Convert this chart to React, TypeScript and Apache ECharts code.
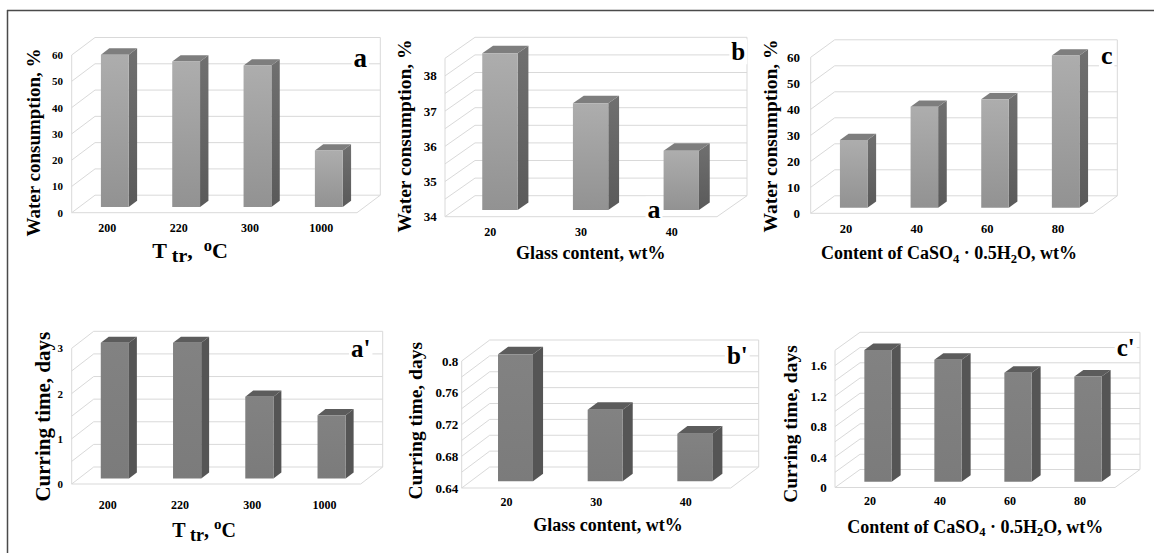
import React, { useEffect, useRef } from 'react';
import * as echarts from 'echarts';

const FONT = '"Liberation Serif", "Times New Roman", serif';

// ---- categories ----
const catsTemp = ['200', '220', '300', '1000'];
const catsGlass = ['20', '30', '40'];
const catsCaso = ['20', '40', '60', '80'];

// ---- series values ----
const waterByTemp = [58.0, 55.4, 53.9, 21.5];
const waterByGlass = [38.45, 37.03, 35.68];
const waterByCaso = [26.0, 38.8, 41.7, 58.5];
const cureByTemp = [3.0, 3.0, 1.81, 1.4];
const cureByGlass = [0.8, 0.73, 0.7];
const cureByCaso = [1.73, 1.6, 1.43, 1.38];

// ---- gridline values (back wall) ----
const gridWaterPct = [0, 10, 20, 30, 40, 50, 60];
const gridWaterGlass = [34, 34.5, 35, 35.5, 36, 36.5, 37, 37.5, 38, 38.5];
const gridCureTemp = [0, 0.5, 1, 1.5, 2, 2.5, 3];
const gridCureGlass = [0.64, 0.66, 0.68, 0.7, 0.72, 0.74, 0.76, 0.78, 0.8];
const gridCureCaso = [0, 0.2, 0.4, 0.6, 0.8, 1, 1.2, 1.4, 1.6, 1.8];

// ---- tick labels shown ----
const labelsWaterPct = [0, 10, 20, 30, 40, 50, 60];
const labelsWaterGlass = [34, 35, 36, 37, 38];
const labelsCureTemp = [0, 1, 2, 3];
const labelsCureGlass = [0.64, 0.68, 0.72, 0.76, 0.8];
const labelsCureCaso = [0, 0.4, 0.8, 1.2, 1.6];

const panels = [
  { cats: catsTemp, values: waterByTemp, grid: gridWaterPct, labels: labelsWaterPct, min: 0, max: 60, interval: 10,
    box: { left: 71.7, top: 55, right: 357, bottom: 212.7 }, dx: 23.3, dy: -17.5, light: true, yFont: 11, yMargin: 8.7, xFont: 12, xMargin: 15.6 },
  { cats: catsGlass, values: waterByGlass, grid: gridWaterGlass, labels: labelsWaterGlass, min: 34, max: 38.5, interval: 0.5,
    box: { left: 445, top: 58.3, right: 717, bottom: 216.7 }, dx: 30, dy: -21, light: true, yFont: 13, yMargin: 8.3, xFont: 12, xMargin: 15 },
  { cats: catsCaso, values: waterByCaso, grid: gridWaterPct, labels: labelsWaterPct, min: 0, max: 60, interval: 10,
    box: { left: 810.7, top: 57.3, right: 1093.3, bottom: 213.3 }, dx: 24, dy: -17.5, light: true, yFont: 13, yMargin: 10.7, xFont: 12.5, xMargin: 16 },
  { cats: catsTemp, values: cureByTemp, grid: gridCureTemp, labels: labelsCureTemp, min: 0, max: 3, interval: 0.5,
    box: { left: 71.7, top: 348.3, right: 360.7, bottom: 484 }, dx: 22, dy: -17, light: false, yFont: 11, yMargin: 8.7, xFont: 12, xMargin: 21 },
  { cats: catsGlass, values: cureByGlass, grid: gridCureGlass, labels: labelsCureGlass, min: 0.64, max: 0.8, interval: 0.02,
    box: { left: 461.7, top: 361, right: 730.7, bottom: 488 }, dx: 28, dy: -21, light: false, yFont: 13, yMargin: 3.5, xFont: 12, xMargin: 14 },
  { cats: catsCaso, values: cureByCaso, grid: gridCureCaso, labels: labelsCureCaso, min: 0, max: 1.8, interval: 0.2,
    box: { left: 835, top: 350.3, right: 1115, bottom: 487.5 }, dx: 25, dy: -18, light: false, yFont: 13, yMargin: 8.3, xFont: 12, xMargin: 13.5 },
];

const GRID_COLOR = '#d9d9d9';
const F_OFF = 0.32;
const DEPTH = 0.36;
const BAR_W = 0.39;

function fmt(v: number) {
  return String(Number(v.toFixed(2)));
}

function buildOption() {
  const series: any[] = [];
  panels.forEach((p, k) => {
    const { dx, dy } = p;
    series.push({
      type: 'custom',
      xAxisIndex: k,
      yAxisIndex: k,
      z: 1,
      silent: true,
      clip: false,
      data: p.grid.map((v) => [0, v]),
      encode: { x: 0, y: 1 },
      renderItem: (params: any, api: any) => {
        const v = api.value(1);
        const cs = params.coordSys;
        const x0 = cs.x;
        const x1 = cs.x + cs.width;
        const y = api.coord([0, v])[1];
        const st = { stroke: GRID_COLOR, lineWidth: 1, fill: 'none' };
        const children: any[] = [
          { type: 'line', shape: { x1: x0 + dx, y1: y + dy, x2: x1 + dx, y2: y + dy }, style: st },
          { type: 'line', shape: { x1: x0, y1: y, x2: x0 + dx, y2: y + dy }, style: st },
        ];
        if (params.dataIndex === 0) {
          const yb = cs.y + cs.height;
          const yt = cs.y;
          children.push(
            { type: 'line', shape: { x1: x0, y1: yb, x2: x0, y2: yt }, style: st },
            { type: 'line', shape: { x1: x0, y1: yb, x2: x1, y2: yb }, style: st },
            { type: 'line', shape: { x1: x1, y1: yb, x2: x1 + dx, y2: yb + dy }, style: st },
            { type: 'line', shape: { x1: x1 + dx, y1: yb + dy, x2: x1 + dx, y2: yt + dy }, style: st }
          );
        }
        return { type: 'group', children };
      },
    });

    const front = p.light
      ? new echarts.graphic.LinearGradient(0, 0, 0, 1, [
          { offset: 0, color: '#adadad' },
          { offset: 1, color: '#929292' },
        ])
      : new echarts.graphic.LinearGradient(0, 0, 0, 1, [
          { offset: 0, color: '#828282' },
          { offset: 1, color: '#7b7b7b' },
        ]);
    const side = p.light
      ? new echarts.graphic.LinearGradient(0, 0, 0, 1, [
          { offset: 0, color: '#707070' },
          { offset: 1, color: '#5a5a5a' },
        ])
      : '#555555';
    const topC = p.light ? '#7e7e7e' : '#5c5c5c';

    series.push({
      type: 'custom',
      xAxisIndex: k,
      yAxisIndex: k,
      z: 2,
      silent: true,
      clip: false,
      data: p.values.map((v, i) => [i, v]),
      encode: { x: 0, y: 1 },
      renderItem: (params: any, api: any) => {
        const i = api.value(0);
        const v = api.value(1);
        const t = api.coord([i, v]);
        const b = api.coord([i, p.min]);
        const band = api.size([1, 0])[0];
        const w = band * BAR_W;
        const ox = F_OFF * dx;
        const oy = F_OFF * dy;
        const xl = t[0] - w / 2 + ox;
        const xr = t[0] + w / 2 + ox;
        const yt = t[1] + oy;
        const yb = b[1] + oy;
        const ddx = DEPTH * dx;
        const ddy = DEPTH * dy;
        return {
          type: 'group',
          children: [
            { type: 'polygon', shape: { points: [[xr, yt], [xr + ddx, yt + ddy], [xr + ddx, yb + ddy], [xr, yb]] }, style: { fill: side } },
            { type: 'polygon', shape: { points: [[xl, yt], [xl + ddx, yt + ddy], [xr + ddx, yt + ddy], [xr, yt]] }, style: { fill: topC } },
            { type: 'rect', shape: { x: xl, y: yt, width: w, height: yb - yt }, style: { fill: front } },
          ],
        };
      },
    });
  });

  const boldText = (size: number) => ({ fontFamily: FONT, fontWeight: 'bold', fontSize: size, fill: '#000' });

  const yTitle = (x: number, y: number, text: string, size: number) => ({
    type: 'text', x, y, rotation: Math.PI / 2, z: 100,
    style: { ...boldText(size), text, align: 'center', verticalAlign: 'middle' },
  });

  const plainTitle = (x: number, y: number, text: string, size: number) => ({
    type: 'text', x, y, z: 100,
    style: { ...boldText(size), text, align: 'center', verticalAlign: 'middle' },
  });

  const tempTitle = (x: number, y: number, size: number, gap: string) => ({
    type: 'text', x, y, z: 100,
    style: {
      text: '{m|T}{s| tr}{m|,' + gap + '}{p|o}{m|C}',
      align: 'center', verticalAlign: 'middle',
      rich: {
        m: { fontFamily: FONT, fontWeight: 'bold', fontSize: size, lineHeight: 28, verticalAlign: 'middle', fill: '#000' },
        s: { fontFamily: FONT, fontWeight: 'bold', fontSize: size * 0.9, lineHeight: 23, verticalAlign: 'bottom', fill: '#000' },
        p: { fontFamily: FONT, fontWeight: 'bold', fontSize: size * 0.75, lineHeight: 10, verticalAlign: 'top', fill: '#000' },
      },
    },
  });

  const casoTitle = (x: number, y: number, size: number) => ({
    type: 'text', x, y, z: 100,
    style: {
      text: '{m|Content of CaSO}{s|4}{m| · 0.5H}{s|2}{m|O, wt%}',
      align: 'center', verticalAlign: 'middle',
      rich: {
        m: { fontFamily: FONT, fontWeight: 'bold', fontSize: size, lineHeight: 24, verticalAlign: 'middle', fill: '#000' },
        s: { fontFamily: FONT, fontWeight: 'bold', fontSize: size * 0.7, lineHeight: 18, verticalAlign: 'bottom', fill: '#000' },
      },
    },
  });

  const letter = (x: number, y: number, text: string, size: number) => ({
    type: 'text', x, y, z: 100,
    style: { ...boldText(size), text, align: 'center', verticalAlign: 'middle', backgroundColor: '#ffffff', padding: [0, 2, 0, 2] },
  });

  const graphic: any[] = [
    { type: 'line', z: 100, shape: { x1: 7, y1: 10.5, x2: 1154, y2: 10.5 }, style: { stroke: '#4a4a4a', lineWidth: 1.5 } },
    { type: 'line', z: 100, shape: { x1: 7.5, y1: 10, x2: 7.5, y2: 553 }, style: { stroke: '#4a4a4a', lineWidth: 1.5 } },

    yTitle(33, 142.5, 'Water consumption, %', 19),
    yTitle(404, 136, 'Water consumption, %', 19.5),
    yTitle(770.5, 136, 'Water consumption, %', 19.5),
    yTitle(42.5, 416.7, 'Curring time, days', 21),
    yTitle(415, 420.8, 'Curring time, days', 19.5),
    yTitle(790.5, 424, 'Curring time, days', 19.5),

    tempTitle(190, 250.5, 22, '  '),
    plainTitle(590.8, 253, 'Glass content, wt%', 18),
    casoTitle(949, 253, 18),
    tempTitle(204, 530, 20, ' '),
    plainTitle(608, 525, 'Glass content, wt%', 18),
    casoTitle(975.3, 526.7, 18),

    letter(360.3, 57.5, 'a', 27),
    letter(738.3, 51.8, 'b', 25),
    letter(1106.7, 55, 'c', 26),
    letter(360.7, 348.5, "a'", 25),
    letter(737.3, 355.2, "b'", 25),
    letter(1125.7, 347.8, "c'", 25),
    letter(654, 209.5, 'a', 26),
  ];

  return {
    animation: false,
    backgroundColor: '#ffffff',
    grid: panels.map((p) => ({
      left: p.box.left,
      top: p.box.top,
      width: p.box.right - p.box.left,
      height: p.box.bottom - p.box.top,
      containLabel: false,
    })),
    xAxis: panels.map((p, k) => ({
      type: 'category',
      gridIndex: k,
      data: p.cats,
      axisLine: { show: false },
      axisTick: { show: false },
      splitLine: { show: false },
      axisLabel: {
        fontFamily: FONT, fontWeight: 'bold', fontSize: p.xFont, color: '#000',
        margin: p.xMargin, verticalAlign: 'middle', interval: 0,
      },
    })),
    yAxis: panels.map((p, k) => ({
      type: 'value',
      gridIndex: k,
      min: p.min,
      max: p.max,
      interval: p.interval,
      axisLine: { show: false },
      axisTick: { show: false },
      splitLine: { show: false },
      axisLabel: {
        fontFamily: FONT, fontWeight: 'bold', fontSize: p.yFont, color: '#000', margin: p.yMargin,
        formatter: (v: number) => (p.labels.some((l) => Math.abs(l - v) < 1e-6) ? fmt(v) : ''),
      },
    })),
    series,
    graphic,
  };
}

export default function App() {
  const ref = useRef<HTMLDivElement>(null);
  useEffect(() => {
    if (!ref.current) return;
    const chart = echarts.init(ref.current, null, { renderer: 'svg' });
    chart.setOption(buildOption() as any);
    return () => chart.dispose();
  }, []);
  return (
    <div
      ref={ref}
      style={{ position: 'fixed', left: 0, top: 0, width: 1154, height: 553, background: '#fff' }}
    />
  );
}
